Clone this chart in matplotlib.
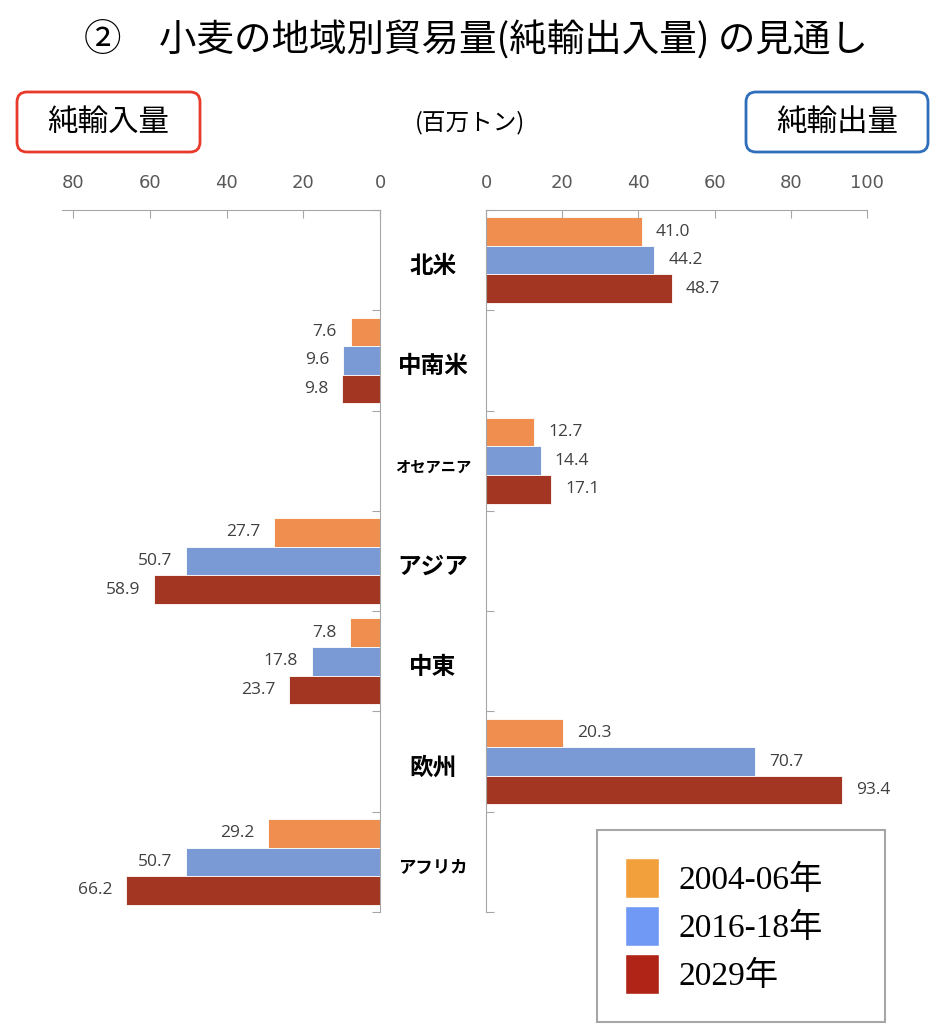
import matplotlib
matplotlib.use("Agg")
import matplotlib.pyplot as plt
import numpy as np
from matplotlib.patches import FancyBboxPatch, Patch

plt.rcParams['font.family'] = ['Noto Sans CJK JP', 'DejaVu Sans']

# data (million tonnes)
regions = ['北米', '中南米', 'オセアニア', 'アジア', '中東', '欧州', 'アフリカ']
region_sizes = [17, 17, 11, 17, 17, 17, 12.5]
periods = ['2004-06年', '2016-18年', '2029年']

export_0406 = [41.0, 0, 12.7, 0, 0, 20.3, 0]
export_1618 = [44.2, 0, 14.4, 0, 0, 70.7, 0]
export_2029 = [48.7, 0, 17.1, 0, 0, 93.4, 0]
import_0406 = [0, 7.6, 0, 27.7, 7.8, 0, 29.2]
import_1618 = [0, 9.6, 0, 50.7, 17.8, 0, 50.7]
import_2029 = [0, 9.8, 0, 58.9, 23.7, 0, 66.2]

bar_colors = ['#EF8E4E', '#7A9AD6', '#A33622']
legend_colors = ['#F2A03C', '#7098F5', '#B02418']
axis_gray = '#A6A6A6'

W, H = 947, 1024
fig = plt.figure(figsize=(W / 100, H / 100), dpi=100)


def px_rect(x0, y0, x1, y1):
    return [x0 / W, 1 - y1 / H, (x1 - x0) / W, (y1 - y0) / H]


ax_l = fig.add_axes(px_rect(62, 210, 380, 912))
ax_r = fig.add_axes(px_rect(486, 210, 867, 912))

n = len(regions)
y = np.arange(n) + 0.5
bh = 0.285
offsets = [-bh, 0, bh]


def draw_side(ax, series, right):
    for vals, off, c in zip(series, offsets, bar_colors):
        vals = np.array(vals, dtype=float)
        mask = vals > 0
        ax.barh(y[mask] + off, vals[mask], height=bh, color=c, edgecolor='white', linewidth=0.6)
        for yy, v in zip(y[mask] + off, vals[mask]):
            ax.annotate(f'{v:.1f}', (v, yy), xytext=(10 if right else -10, 0),
                        textcoords='offset points', va='center',
                        ha='left' if right else 'right',
                        fontsize=12.5, color='#404040', family=['Open Sans', 'DejaVu Sans'])
    ax.set_ylim(n, 0)
    ax.set_yticks(np.arange(n + 1))
    ax.set_yticklabels([])
    ax.xaxis.tick_top()
    ax.tick_params(axis='x', direction='in', length=6, color=axis_gray, pad=13,
                   labelsize=13, labelcolor='#595959')
    ax.tick_params(axis='y', direction='in', length=6, color=axis_gray)
    ax.spines['bottom'].set_visible(False)
    ax.spines['top'].set_color(axis_gray)
    if right:
        ax.spines['right'].set_visible(False)
        ax.spines['left'].set_color(axis_gray)
    else:
        ax.spines['left'].set_visible(False)
        ax.spines['right'].set_color(axis_gray)
        ax.yaxis.tick_right()
        ax.tick_params(axis='y', direction='in', length=6, color=axis_gray)


tick_font = ['Liberation Sans Narrow', 'DejaVu Sans']

draw_side(ax_l, [import_0406, import_1618, import_2029], right=False)
ax_l.set_xlim(83, 0)
ax_l.set_xticks([80, 60, 40, 20, 0])
ax_l.set_xticklabels(['80', '60', '40', '20', '0'], family=tick_font)

draw_side(ax_r, [export_0406, export_1618, export_2029], right=True)
ax_r.set_xlim(0, 100)
ax_r.set_xticks([0, 20, 40, 60, 80, 100])
ax_r.set_xticklabels(['0', '20', '40', '60', '80', '100'], family=tick_font)

# overlay in pixel coordinates for text and boxes
ov = fig.add_axes([0, 0, 1, 1], zorder=-1)
ov.set_xlim(0, W)
ov.set_ylim(H, 0)
ov.axis('off')

ov.text(476, 40, '②　小麦の地域別貿易量(純輸出入量) の見通し', ha='center', va='center', fontsize=27)
ov.text(470, 123, '(百万トン)', ha='center', va='center', fontsize=17)

ov.add_patch(FancyBboxPatch((17, 92), 183, 60, boxstyle='round,pad=0,rounding_size=10',
                            fc='white', ec='#E8392B', lw=2))
ov.text(108, 122, '純輸入量', ha='center', va='center', fontsize=22)
ov.add_patch(FancyBboxPatch((746, 92), 182, 60, boxstyle='round,pad=0,rounding_size=10',
                            fc='white', ec='#2F6EBA', lw=2))
ov.text(837, 122, '純輸出量', ha='center', va='center', fontsize=22)

for i, (name, fs) in enumerate(zip(regions, region_sizes)):
    ov.text(433, 210 + (i + 0.5) * 702 / n + 6, name, ha='center', va='center',
            fontsize=fs, fontweight='bold')

handles = [Patch(facecolor=c, edgecolor='white', label=p) for c, p in zip(legend_colors, periods)]
leg = fig.legend(handles=handles, loc='upper left', mode='expand',
                 bbox_to_anchor=(597 / W, 1 - 1015 / H, 288 / W, 185 / H),
                 prop={'family': ['Liberation Serif', 'Noto Sans CJK JP'], 'size': 24},
                 handlelength=1.0, handleheight=1.45, handletextpad=0.6,
                 labelspacing=0.25, borderpad=0.85, borderaxespad=0,
                 fancybox=False, framealpha=1)
leg.get_frame().set_edgecolor(axis_gray)
leg.get_frame().set_linewidth(1.5)

fig.savefig('out.png', dpi=100)
